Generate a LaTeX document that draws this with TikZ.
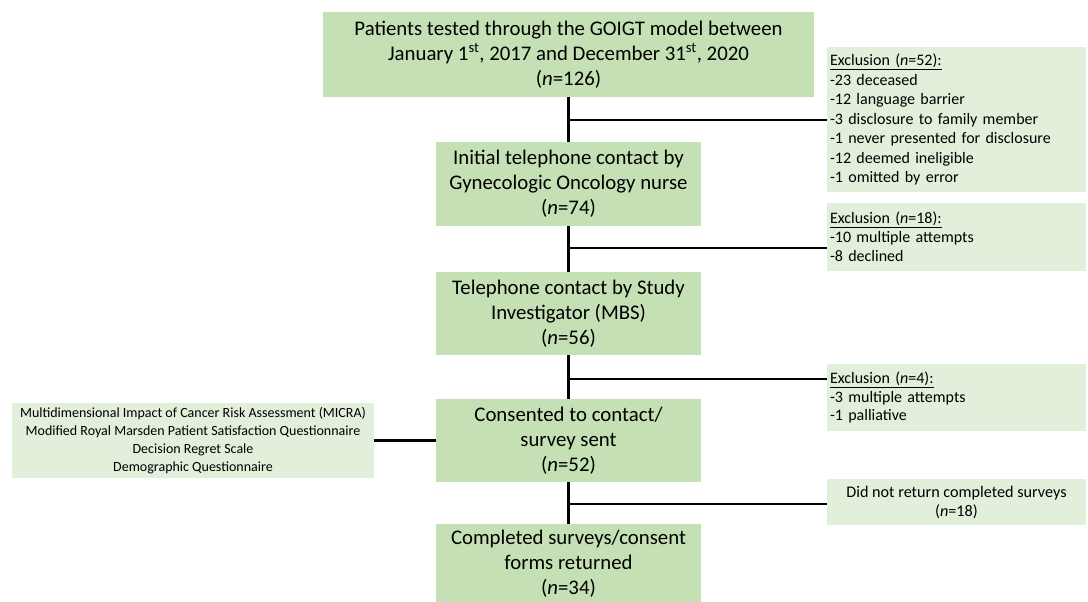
\documentclass[tikz,border=0pt]{standalone}
\usepackage{fontspec}
\setmainfont{Carlito}
\definecolor{boxdark}{HTML}{C5E0B4}
\definecolor{boxlight}{HTML}{E2EFDA}
\begin{document}
\begin{tikzpicture}[x=1pt,y=-1pt,
  mainbox/.style={fill=boxdark, draw=none, inner sep=0pt, align=center,
    font=\fontsize{20.8}{25}\selectfont, text=black},
  sidebox/.style={fill=boxlight, draw=none, inner sep=0pt, text=black},
  conn/.style={line width=2.8pt, black}]
\useasboundingbox (0,0) rectangle (1088,602);
% main column
\node[mainbox, minimum width=491pt, minimum height=85pt] (top) at (568.5,54.5)
  {Patients tested through the GOIGT model between\\
   January 1\textsuperscript{st}, 2017 and December 31\textsuperscript{st}, 2020\\
   (\textit{n}=126)};
\node[mainbox, minimum width=265pt, minimum height=84pt] (b2) at (568.5,184)
  {Initial telephone contact by\\ Gynecologic Oncology nurse\\ (\textit{n}=74)};
\node[mainbox, minimum width=265pt, minimum height=83pt] (b3) at (568.5,313.5)
  {Telephone contact by Study\\ Investigator (MBS)\\ (\textit{n}=56)};
\node[mainbox, minimum width=265pt, minimum height=83pt] (b4) at (568.5,440.5)
  {Consented to contact/\\ survey sent\\ (\textit{n}=52)};
\node[mainbox, minimum width=265pt, minimum height=80pt] (b5) at (568.5,564)
  {Completed surveys/consent\\ forms returned\\ (\textit{n}=34)};
% side boxes
\node[sidebox, minimum width=259pt, minimum height=145pt, text width=253pt, align=left,
  font=\fontsize{16}{19.5}\selectfont] (e1) at (956.5,119.5)
  {\underline{Exclusion (\textit{n}=52):}\\
   -23 deceased\\
   -12 language barrier\\
   -3 disclosure to family member\\
   -1 never presented for disclosure\\
   -12 deemed ineligible\\
   -1 omitted by error};
\node[sidebox, minimum width=259pt, minimum height=68pt, text width=253pt, align=left,
  font=\fontsize{16}{19}\selectfont] (e2) at (956.5,237)
  {\underline{Exclusion (\textit{n}=18):}\\
   -10 multiple attempts\\
   -8 declined};
\node[sidebox, minimum width=259pt, minimum height=67pt, text width=253pt, align=left,
  font=\fontsize{16}{18.5}\selectfont] (e3) at (956.5,397.5)
  {\underline{Exclusion (\textit{n}=4):}\\
   -3 multiple attempts\\
   -1 palliative};
\node[sidebox, minimum width=259pt, minimum height=46pt, align=center,
  font=\fontsize{16.2}{19}\selectfont] (e4) at (956.5,502)
  {Did not return completed surveys\\ (\textit{n}=18)};
\node[sidebox, minimum width=362pt, minimum height=75pt, align=center,
  font=\fontsize{14}{18}\selectfont] (inst) at (193,440.5)
  {Multidimensional Impact of Cancer Risk Assessment (MICRA)\\
   Modified Royal Marsden Patient Satisfaction Questionnaire\\
   Decision Regret Scale\\
   Demographic Questionnaire};
% branch points
\coordinate (j1) at (568.5,120);
\coordinate (j2) at (568.5,248);
\coordinate (j3) at (568.5,379);
\coordinate (j4) at (568.5,504);
% connectors
\draw[conn] (top.south) -- (b2.north);
\draw[conn] (b2.south) -- (b3.north);
\draw[conn] (b3.south) -- (b4.north);
\draw[conn] (b4.south) -- (b5.north);
\draw[conn] (j1) -- (j1 -| e1.west);
\draw[conn] (j2) -- (j2 -| e2.west);
\draw[conn] (j3) -- (j3 -| e3.west);
\draw[conn] (j4) -- (j4 -| e4.west);
\draw[conn] (b4.west) -- (inst.east);
\end{tikzpicture}
\end{document}
